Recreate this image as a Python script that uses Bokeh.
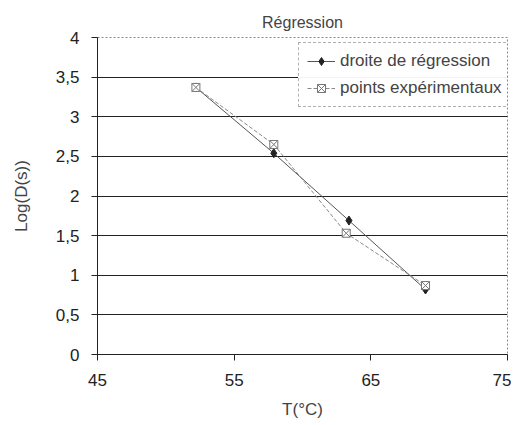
from bokeh.plotting import figure
from bokeh.models import FixedTicker, CustomJSTickFormatter, Range1d, Legend, LegendItem
from bokeh.embed import file_html
from bokeh.resources import INLINE

title = "Régression"
x_label = "T(°C)"
y_label = "Log(D(s))"

reg_T = [52.2, 57.9, 63.4, 69.0]
reg_logD = [3.37, 2.54, 1.69, 0.82]
exp_T = [52.2, 57.9, 63.2, 69.0]
exp_logD = [3.37, 2.65, 1.53, 0.87]

x_ticks = [45, 55, 65, 75]
y_ticks = [0, 0.5, 1, 1.5, 2, 2.5, 3, 3.5, 4]

FONT = "Liberation Sans"

p = figure(width=511, height=421, output_backend="svg", toolbar_location=None,
           x_range=Range1d(45, 75), y_range=Range1d(0, 4),
           min_border_left=97, min_border_right=4, min_border_top=37, min_border_bottom=66)

p.title.text = title
p.title.align = "center"
p.title.text_font = FONT
p.title.text_font_size = "16px"
p.title.text_font_style = "normal"
p.title.offset = 0
p.title.standoff = 13

p.xaxis.ticker = FixedTicker(ticks=x_ticks)
p.yaxis.ticker = FixedTicker(ticks=y_ticks)
p.yaxis.formatter = CustomJSTickFormatter(code="return tick.toString().replace('.', ',');")
p.xaxis.axis_label = x_label
p.yaxis.axis_label = y_label
for ax in (p.xaxis, p.yaxis):
    ax.axis_label_text_font = FONT
    ax.axis_label_text_font_size = "17px"
    ax.axis_label_text_font_style = "normal"
    ax.major_label_text_font = FONT
    ax.major_label_text_font_size = "17px"
    ax.major_label_text_color = "#222222"
    ax.axis_line_color = "#222222"
    ax.major_tick_line_color = "#222222"
    ax.minor_tick_line_color = None
    ax.major_tick_in = 0
    ax.major_tick_out = 6
p.yaxis.major_label_standoff = 12
p.xaxis.major_label_standoff = 13
p.xaxis.axis_label_standoff = 11
p.yaxis.axis_label_standoff = 22

p.xgrid.grid_line_color = None
p.ygrid.grid_line_color = "#222222"
p.ygrid.grid_line_width = 1
p.outline_line_color = "#888888"
p.outline_line_dash = "2 2"
p.background_fill_color = "white"

r1 = p.line(reg_T, reg_logD, line_color="#555555", line_width=1)
m1 = p.scatter(reg_T, reg_logD, marker="diamond", size=9, fill_color="#222222", line_color="#222222")
r2 = p.line(exp_T, exp_logD, line_color="#888888", line_width=1, line_dash="4 2")
m2 = p.scatter(exp_T, exp_logD, marker="square_x", size=8, fill_color="white", line_color="#777777")

legend = Legend(items=[LegendItem(label="droite de régression", renderers=[r1, m1]),
                       LegendItem(label="points expérimentaux", renderers=[r2, m2])],
                location=(201, 247))
legend.label_text_font = FONT
legend.label_text_font_size = "17px"
legend.border_line_color = "#666666"
legend.border_line_dash = "2 2"
legend.padding = 8
legend.spacing = 7
legend.glyph_width = 28
legend.label_standoff = 5
legend.label_width = 162
p.add_layout(legend, "center")

open("out.html", "w").write(file_html(p, INLINE))
